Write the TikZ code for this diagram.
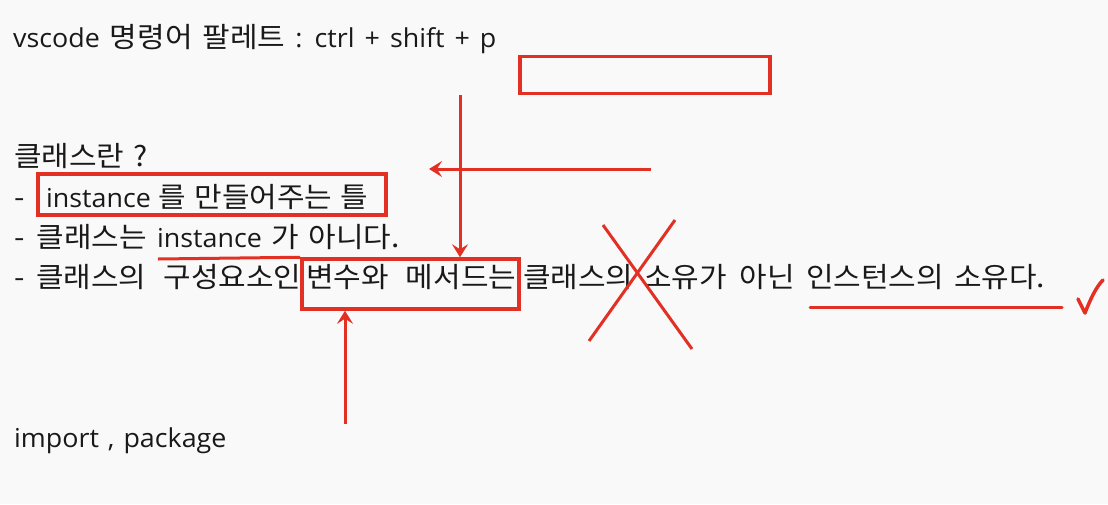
\documentclass[tikz,border=0pt]{standalone}
\usepackage{fontspec}
\setmainfont{Noto Sans CJK KR}
\newfontfamily\kfont[FakeStretch=1.07]{Noto Sans CJK KR}
\newfontfamily\lfont[Scale=0.93,FakeStretch=1.03]{Open Sans}
\newcommand\LatinTxt[1]{{\lfont #1}}
\usetikzlibrary{arrows.meta,calc}
\definecolor{bg}{RGB}{249,249,249}
\definecolor{pen}{RGB}{226,48,36}
\definecolor{ink}{RGB}{25,25,25}
\tikzset{
  wsp/.style={execute at begin node={\spaceskip=#1\relax}},
  txt/.style={anchor=base west, inner sep=0pt, text=ink, font=\fontsize{28pt}{32pt}\selectfont\kfont, wsp=10pt},
  redbox/.style={draw=pen, line width=3.5pt, rectangle, inner sep=0pt},
  redline/.style={draw=pen, line width=3pt},
  redarrow/.style={draw=pen, line width=3pt, -{Stealth[length=13pt,width=16pt,inset=5pt]}},
}
\begin{document}
\begin{tikzpicture}[x=1pt,y=-1pt]
\fill[bg] (0,0) rectangle (1108,504);
\useasboundingbox (0,0) rectangle (1108,504);
% texts
\node[txt, wsp=10pt] (t1) at (13,47) {\LatinTxt{vscode} 명령어 팔레트 \LatinTxt{: ctrl + shift + p}};
\node[txt, wsp=9pt] (t2) at (14,166) {클래스란 ?};
\node[txt] (t3a) at (14,207) {-};
\node[txt, wsp=8pt] (t3b) at (46,207) {\LatinTxt{instance} 를 만들어주는 틀};
\node[txt, wsp=12pt] (t4a) at (14,247) {- 클래스는};
\node[txt] (t4b) at (157,247) {\LatinTxt{instance}};
\node[txt, wsp=10pt] (t4c) at (271,247) {가 아니다.};
\node[txt] (t5a) at (14,287) {-};
\node[txt, wsp=17pt] (t5b) at (36,287) {클래스의 구성요소인};
\node[txt, wsp=17pt] (t5c) at (306,287) {변수와 메서드는};
\node[txt] (t5d) at (523,287) {클래스의};
\node[txt, wsp=13pt] (t5e) at (644,287) {소유가 아닌};
\node[txt, wsp=10pt] (t5f) at (806,287) {인스턴스의 소유다.};
\node[txt, wsp=9pt] (t6) at (14,447) {\LatinTxt{import , package}};
% boxes
\node[redbox, minimum width=250pt, minimum height=37pt] (b1) at (645,75) {};
\node[redbox, minimum width=348pt, minimum height=41pt] (b2) at (212,194.5) {};
\node[redbox, minimum width=217pt, minimum height=50pt] (b3) at (410.5,284) {};
% coordinates
\coordinate (ds) at (460,95);
\coordinate (ls) at (651,169);
\coordinate (le) at (429,169);
\coordinate (us) at (345,424);
\coordinate (hl) at (158,259);
\coordinate (xa1) at (603,225);
\coordinate (xa2) at (692,349);
\coordinate (xb1) at (675,220);
\coordinate (xb2) at (589,341);
\coordinate (ul1) at (810,307);
\coordinate (ul2) at (1062,307);
\coordinate (c1) at (1078,299);
\coordinate (c2) at (1085,313);
\coordinate (c3) at (1103,280);
% connectors
\draw[redarrow] (ds) -- (ds |- b3.north);
\draw[redarrow] (ls) -- (le);
\draw[redarrow] (us) -- (us |- b3.south);
\draw[redline] (hl) -- (b3.north west);
\draw[redline] (xa1) -- (xa2);
\draw[redline] (xb1) -- (xb2);
\draw[redline, line cap=round] (ul1) -- (ul2);
\draw[redline, line width=3.5pt, line cap=round, line join=round] (c1) -- (c2) .. controls (1090,300) and (1096,287) .. (c3);
\end{tikzpicture}
\end{document}
